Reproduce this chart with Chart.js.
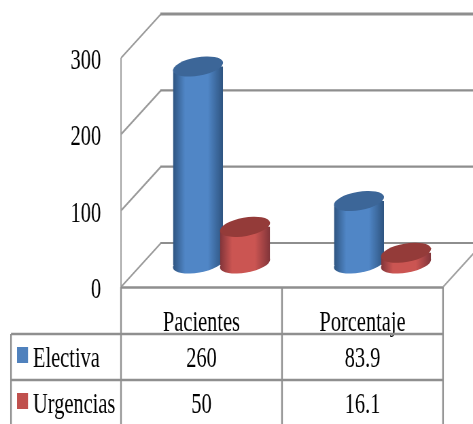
<!DOCTYPE html>
<html>
<head>
<meta charset="utf-8">
<script src="https://cdn.jsdelivr.net/npm/chart.js@4"></script>
<style>
  html, body { margin: 0; padding: 0; background: #fff; overflow: hidden; width: 473px; height: 424px; }
  #box { width: 473px; height: 424px; overflow: hidden; }
  /* The drawing is laid out wider than the page and condensed horizontally. */
  #c { display: block; transform-origin: 0 0; transform: scaleX(0.6796); }
</style>
</head>
<body>
<div id="box"><canvas id="c" width="696" height="424"></canvas></div>
<script>
const categories = ['Pacientes', 'Porcentaje'];
const seriesNames = ['Electiva', 'Urgencias'];
const electiva = [260, 83.9];
const urgencias = [50, 16.1];
const yMax = 300;
const yStep = 100;

const SX = 473 / 696;               // horizontal condensing factor
const px = x => x / SX;             // page x to canvas x
const DEPTH = { x: 40, y: -44 };    // floor depth in page pixels
const LABEL_DROP = 3;               // value labels sit this far below their rules
const TILT = 10 * Math.PI / 180;    // tilt of the cylinder caps
const CAP_A = 25.4, CAP_B = 9.2;    // cap radii in page pixels
const FOOT_RISE = 1.5;              // foot of each cylinder sits a little higher
const BAR_SHARE = 50 / 161;         // cylinder width as a share of a category
const BAR_SHIFT = [-23.5, 23.5];    // sideways shift of each series in page pixels
const SERIF = '"Liberation Serif", "Times New Roman", serif';
const FONT_SIZE = 30;

const palette = [
  { edge: '#2e5480', mid: '#5086c6', cap: '#3c6698', swatch: '#4f81bd' },
  { edge: '#81353a', mid: '#cb5552', cap: '#943b39', swatch: '#c0504d' }
];

// Side of the cylinder: dark towards both edges, light a bit right of centre.
function cylinderFill(ctx) {
  const scale = ctx.chart.scales.x;
  const colors = palette[ctx.datasetIndex];
  if (!scale || !scale.width) return colors.mid;
  const half = (scale.width / categories.length) * BAR_SHARE / 2;
  const centre = scale.getPixelForTick(ctx.dataIndex);
  const g = ctx.chart.ctx.createLinearGradient(centre - half, 0, centre + half, 0);
  g.addColorStop(0, colors.edge);
  g.addColorStop(0.24, colors.mid);
  g.addColorStop(0.7, colors.mid);
  g.addColorStop(1, colors.edge);
  return g;
}

function capPath(c, cx, cy) {
  c.save();
  c.translate(cx, cy);
  c.scale(1 / SX, 1);
  c.rotate(-TILT);
  c.beginPath();
  c.ellipse(0, 0, CAP_A, CAP_B, 0, 0, Math.PI * 2);
  c.restore();
}

// Height offset of the widest points of a tilted cap.
function capLift() {
  const s = Math.sin(TILT), k = Math.cos(TILT);
  const reach = Math.hypot(CAP_A * k, CAP_B * s);
  return (CAP_A * CAP_A - CAP_B * CAP_B) * s * k / reach;
}

const cylinders = {
  id: 'cylinders',
  beforeDatasetDraw(chart, args) {
    const c = chart.ctx;
    const bars = args.meta.data;
    const lift = capLift();
    c.save();
    // Columns stand halfway back on the floor, each series to its own side.
    c.translate(px(DEPTH.x / 2 + BAR_SHIFT[args.index]), DEPTH.y / 2 - LABEL_DROP);
    bars.forEach(b => {
      capPath(c, b.x, b.base - FOOT_RISE);
      c.fillStyle = b.options.backgroundColor;
      c.fill();
    });
    c.save();
    c.beginPath();
    bars.forEach(b => {
      const l = b.x - b.width / 2, r = b.x + b.width / 2;
      c.moveTo(l, b.y + lift);
      c.lineTo(r, b.y - lift);
      c.lineTo(r, b.base - FOOT_RISE - lift);
      c.lineTo(l, b.base - FOOT_RISE + lift);
      c.closePath();
    });
    c.clip();
  },
  afterDatasetDraw(chart, args) {
    const c = chart.ctx;
    c.restore();
    args.meta.data.forEach(b => {
      capPath(c, b.x, b.y);
      c.fillStyle = palette[args.index].cap;
      c.fill();
    });
    c.restore();
  }
};

const wallAndTable = {
  id: 'wallAndTable',
  beforeDatasetsDraw(chart) {
    const c = chart.ctx, y = chart.scales.y;
    const { left, right, bottom } = chart.chartArea;
    const dx = px(DEPTH.x), dy = DEPTH.y;
    const floorFront = bottom - LABEL_DROP;
    c.save();
    // Back wall rules and the matching slanted ticks on the side wall.
    y.ticks.forEach(t => {
      const py = y.getPixelForValue(t.value) - LABEL_DROP;
      c.strokeStyle = '#9a9a9a';
      c.lineWidth = 2;
      c.beginPath();
      c.moveTo(left, py);
      c.lineTo(left + dx, py + dy);
      c.stroke();
      c.strokeStyle = '#8e8e8e';
      c.lineWidth = t.value === yMax ? 3 : 2.2;
      c.beginPath();
      c.moveTo(left + dx - 1, py + dy);
      c.lineTo(chart.width, py + dy);
      c.stroke();
    });
    // Side wall upright and the right edge of the floor.
    c.strokeStyle = '#a0a0a0';
    c.lineWidth = 2;
    c.beginPath();
    c.moveTo(left, y.getPixelForValue(yMax) - LABEL_DROP);
    c.lineTo(left, floorFront);
    c.moveTo(right, floorFront);
    c.lineTo(right + dx, floorFront + dy);
    c.stroke();
    c.restore();
  },
  afterDraw(chart) {
    const c = chart.ctx;
    const x = chart.scales.x;
    const { left, right, bottom } = chart.chartArea;
    const floorFront = bottom - LABEL_DROP;
    const rows = [334, 380];
    const tableLeft = px(11);
    const table = [electiva, urgencias];
    c.save();
    c.strokeStyle = '#8f8f8f';
    c.lineWidth = 2.4;
    c.beginPath();
    c.moveTo(left, floorFront + 0.5);
    c.lineTo(right, floorFront + 0.5);
    rows.forEach(r => { c.moveTo(tableLeft, r); c.lineTo(right, r); });
    [left, x.getPixelForValue(0.5), right].forEach(v => { c.moveTo(v, floorFront); c.lineTo(v, chart.height); });
    c.moveTo(tableLeft, rows[0]);
    c.lineTo(tableLeft, chart.height);
    c.stroke();

    c.font = FONT_SIZE + 'px ' + SERIF;
    c.textBaseline = 'alphabetic';
    seriesNames.forEach((name, r) => {
      const base = rows[r] + 33;
      c.fillStyle = palette[r].swatch;
      c.fillRect(px(17), rows[r] + 13, px(11), 16);
      c.fillStyle = '#000';
      c.textAlign = 'left';
      c.fillText(name, px(33), base);
      c.textAlign = 'center';
      table[r].forEach((v, i) => c.fillText(String(v), x.getPixelForTick(i), base));
    });
    c.restore();
  }
};

new Chart(document.getElementById('c'), {
  type: 'bar',
  data: {
    labels: categories,
    datasets: [
      { label: seriesNames[0], data: electiva, grouped: false, order: 1, backgroundColor: cylinderFill, clip: false,
        categoryPercentage: BAR_SHARE, barPercentage: 1, borderWidth: 0 },
      { label: seriesNames[1], data: urgencias, grouped: false, order: 0, backgroundColor: cylinderFill, clip: false,
        categoryPercentage: BAR_SHARE, barPercentage: 1, borderWidth: 0 }
    ]
  },
  options: {
    responsive: false,
    animation: false,
    events: [],
    layout: { padding: { top: 58 + LABEL_DROP, right: px(473 - 443), left: 0, bottom: 0 } },
    plugins: { legend: { display: false }, tooltip: { enabled: false } },
    scales: {
      x: {
        grid: { display: false },
        border: { display: false },
        ticks: { color: '#000', font: { family: SERIF, size: FONT_SIZE }, padding: 7, maxRotation: 0, autoSkip: false },
        afterFit(s) { s.height = 424 - 287 - LABEL_DROP; }
      },
      y: {
        min: 0, max: yMax,
        grid: { display: false },
        border: { display: false },
        ticks: { stepSize: yStep, color: '#000', font: { family: SERIF, size: FONT_SIZE }, padding: px(14.5) },
        afterFit(s) { s.width = px(121); }
      }
    }
  },
  plugins: [wallAndTable, cylinders]
});
</script>
</body>
</html>
